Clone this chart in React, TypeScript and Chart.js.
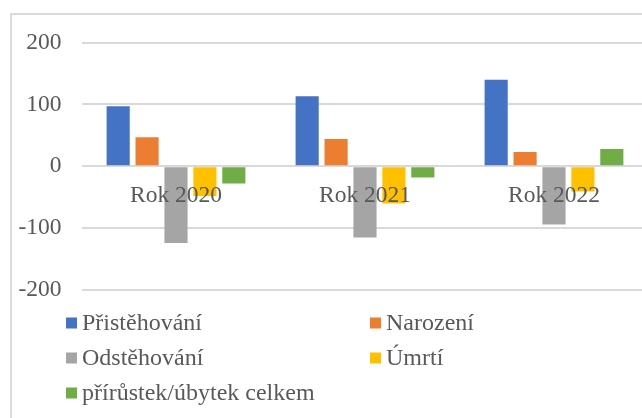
import React, { useEffect, useRef } from "react";
import { Chart, registerables } from "chart.js";

Chart.register(...registerables);

const categories = ["Rok 2020", "Rok 2021", "Rok 2022"];
const seriesNames = ["Přistěhování", "Narození", "Odstěhování", "Úmrtí", "přírůstek/úbytek celkem"];
const seriesColors = ["#4472C4", "#ED7D31", "#A5A5A5", "#FFC000", "#70AD47"];
const pristehovani = [97, 113, 140];
const narozeni = [47, 44, 23];
const odstehovani = [-124, -115, -94];
const umrti = [-48, -60, -41];
const celkem = [-28, -18, 28];
const yTicks = [-200, -100, 0, 100, 200];

const FONT = "'Liberation Serif', 'Times New Roman', serif";
const TEXT = "#595959";
const GRID = "#d9d9d9";

const legendPlugin = {
  id: "customLegend",
  afterDraw(chart: any) {
    const ctx = chart.ctx;
    const cols = [66, 370];
    const rows = [323, 358, 393];
    const box = 11;
    ctx.save();
    ctx.font = "normal normal 24px 'Liberation Serif', serif";
    ctx.textBaseline = "middle";
    ctx.textAlign = "left";
    chart.data.datasets.forEach((ds: any, i: number) => {
      const x = cols[i % 2];
      const y = rows[Math.floor(i / 2)];
      ctx.fillStyle = ds.backgroundColor;
      ctx.fillRect(x, y - box / 2, box, box);
      ctx.fillStyle = TEXT;
      ctx.fillText(ds.label, x + box + 5, y + 1);
    });
    ctx.restore();
  },
};

export default function App() {
  const ref = useRef<HTMLCanvasElement | null>(null);
  useEffect(() => {
    if (!ref.current) return;
    const values = [pristehovani, narozeni, odstehovani, umrti, celkem];
    const chart = new Chart(ref.current, {
      type: "bar",
      data: {
        labels: categories,
        datasets: seriesNames.map((name, i) => ({
          label: name,
          data: values[i],
          backgroundColor: seriesColors[i],
          borderWidth: 0,
          categoryPercentage: 0.765,
          barPercentage: 0.8,
        })),
      },
      options: {
        animation: false,
        responsive: false,
        devicePixelRatio: 1,
        layout: { padding: { left: 0, right: 11.5, top: 42.5, bottom: 128 } },
        plugins: { legend: { display: false }, tooltip: { enabled: false } },
        scales: {
          x: {
            position: { y: 0 } as any,
            grid: { display: false, drawTicks: false },
            border: { display: false },
            ticks: {
              z: 1,
              color: TEXT,
              font: { family: FONT, size: 23.5 },
              padding: 15,
              maxRotation: 0,
            },
          },
          y: {
            min: -200,
            max: 200,
            afterFit(scale: any) {
              scale.width = 81.5;
            },
            afterBuildTicks(scale: any) {
              scale.ticks = yTicks.map((v) => ({ value: v }));
            },
            grid: { color: GRID, lineWidth: 2, drawTicks: false },
            border: { display: false },
            ticks: {
              color: TEXT,
              font: { family: FONT, size: 23.5 },
              padding: 20,
            },
          },
        },
      },
      plugins: [legendPlugin],
    });
    return () => chart.destroy();
  }, []);

  return (
    <div
      style={{
        position: "fixed",
        left: 0,
        top: 0,
        width: 642,
        height: 418,
        overflow: "hidden",
        background: "#fff",
      }}
    >
      <div
        style={{
          position: "absolute",
          left: 10,
          top: 13,
          width: 700,
          height: 500,
          border: `2px solid ${GRID}`,
          boxSizing: "border-box",
        }}
      />
      <canvas
        ref={ref}
        width={660}
        height={418}
        style={{ position: "absolute", left: 0, top: 0, width: 660, height: 418 }}
      />
    </div>
  );
}
